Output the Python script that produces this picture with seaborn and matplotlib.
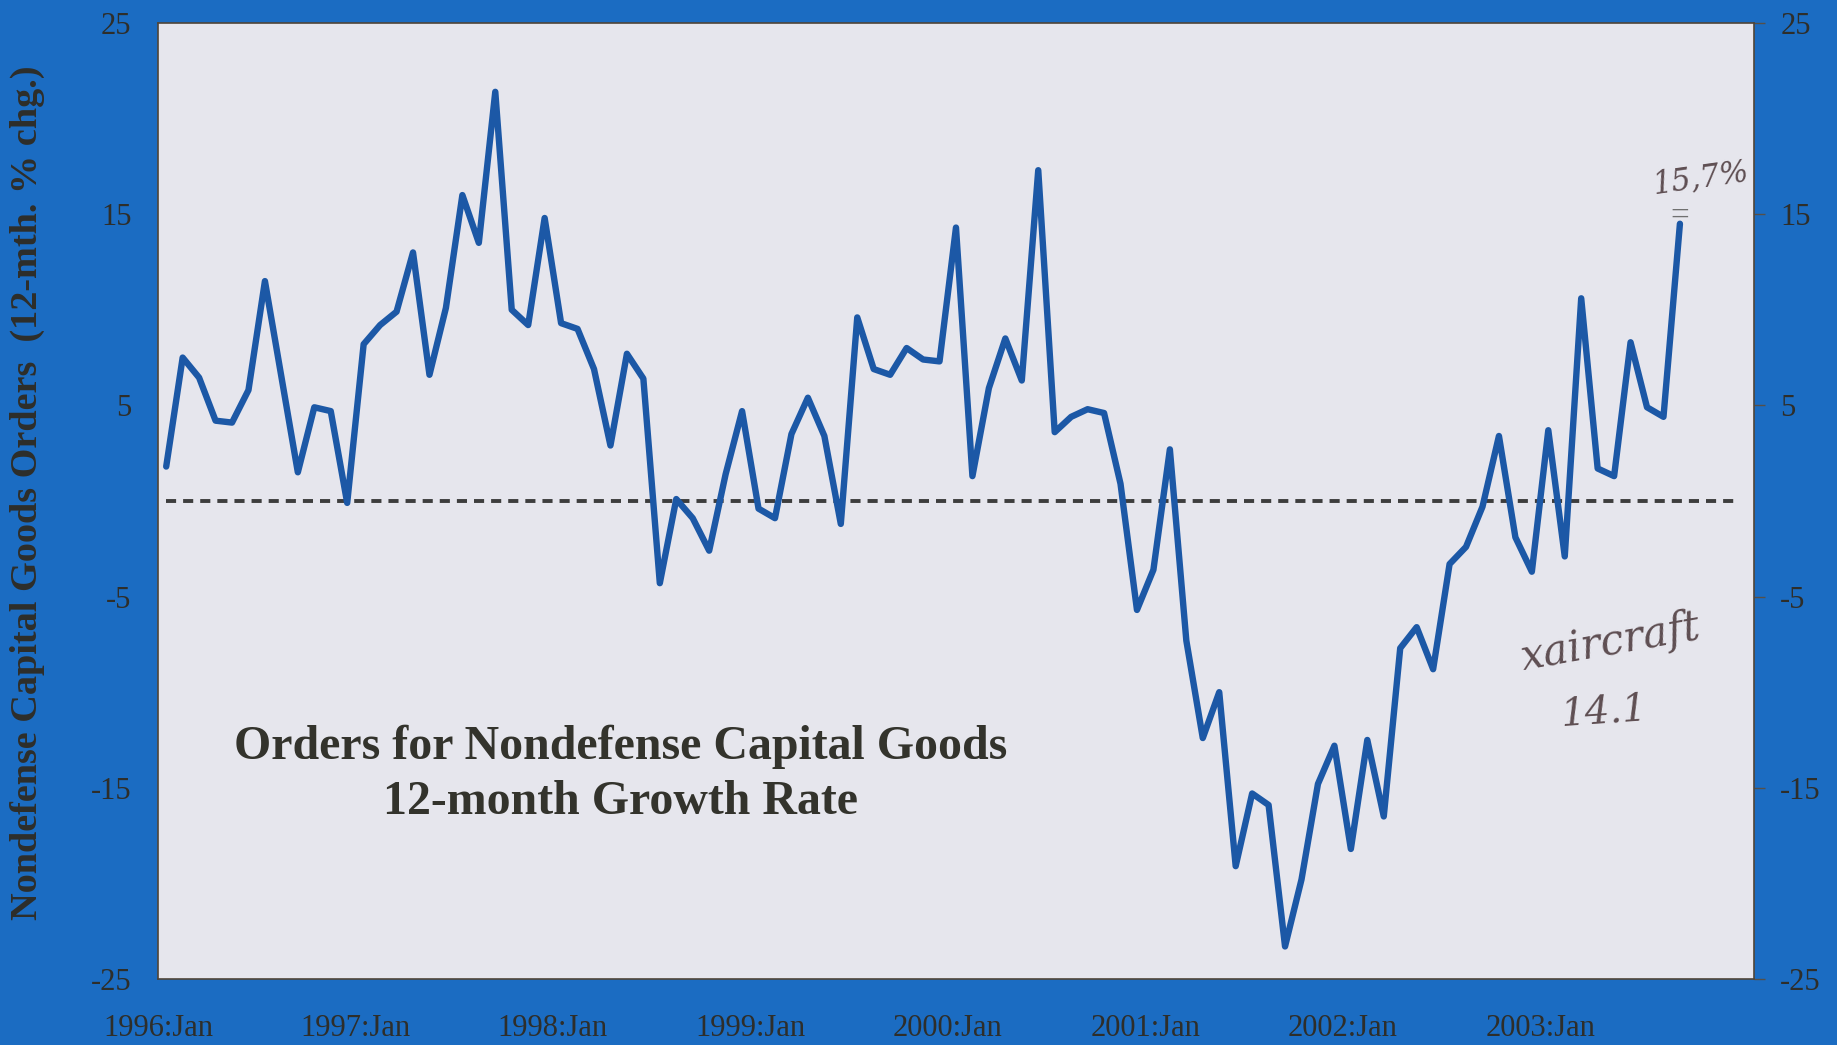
import numpy as np
import pandas as pd
import matplotlib
matplotlib.use("Agg")
import matplotlib.pyplot as plt
import seaborn as sns

# 12-month % change in nondefense capital goods orders, monthly from 1996:Jan
growth = [
    1.8, 7.5, 6.45, 4.2, 4.1, 5.8, 11.5, 6.5, 1.5, 4.9, 4.7, -0.1,
    8.2, 9.2, 9.9, 13.0, 6.6, 10.1, 16.0, 13.5, 21.4, 10.0, 9.2, 14.8,
    9.3, 9.0, 6.9, 2.9, 7.7, 6.4, -4.3, 0.1, -0.9, -2.6, 1.4, 4.7,
    -0.4, -0.9, 3.5, 5.4, 3.4, -1.2, 9.6, 6.9, 6.6, 8.0, 7.4, 7.3,
    14.3, 1.3, 5.9, 8.5, 6.3, 17.3, 3.6, 4.4, 4.8, 4.6, 0.9, -5.7,
    -3.6, 2.7, -7.3, -12.4, -10.0, -19.1, -15.3, -15.9, -23.3, -19.8, -14.8, -12.8,
    -18.2, -12.5, -16.5, -7.7, -6.6, -8.8, -3.3, -2.4, -0.3, 3.4, -1.9, -3.7,
    3.7, -2.9, 10.6, 1.7, 1.3, 8.3, 4.9, 4.4, 14.5,
]
year_labels = ["1996:Jan", "1997:Jan", "1998:Jan", "1999:Jan", "2000:Jan",
               "2001:Jan", "2002:Jan", "2003:Jan", ""]
y_ticks = [25, 15, 5, -5, -15, -25]
y_tick_labels = ["25", "15", "5", "-5", "-15", "-25"]

title_lines = "Orders for Nondefense Capital Goods\n12-month Growth Rate"
y_title = "Nondefense Capital Goods Orders  (12-mth. % chg.)"
note_latest = "15,7%"
note_aircraft = "xaircraft"
note_aircraft_val = "14.1"

sns.set_theme(style="white")
plt.rcParams["font.family"] = ["Liberation Serif", "DejaVu Serif"]

BG = "#1b6cc2"
PANEL = "#e6e6ed"
LINE = "#1c58a6"
INK = "#2e2e2a"
PEN = "#5e4e52"

fig = plt.figure(figsize=(18.37, 10.45), dpi=100, facecolor=BG)
ax = fig.add_axes([0.086, 0.0632, 0.8688, 0.9148])
ax.set_facecolor(PANEL)

# months are drawn at mid-month, year ticks at the start of each January
df = pd.DataFrame({"month": np.arange(len(growth)) + 0.5, "growth": growth})

ax.hlines(0, df["month"].iloc[0], 96, colors="#3d3d3d", linewidth=2.8,
          linestyles=(0, (2.6, 1.8)), zorder=2)
sns.lineplot(data=df, x="month", y="growth", ax=ax, color=LINE,
             linewidth=4.6, zorder=3)
for ln in ax.lines:
    ln.set_solid_joinstyle("round")

ax.set_xlim(0, 97)
ax.set_ylim(-25, 25)
ax.set_xticks(np.arange(0, 97, 12))
ax.set_xticklabels(year_labels)
ax.set_yticks(y_ticks)
ax.set_yticklabels(y_tick_labels)
ax.set_xlabel("")
ax.set_ylabel(y_title, fontsize=27.5, fontweight="bold", color=INK)
ax.yaxis.set_label_coords(-0.071, 0.509)

ax.tick_params(axis="both", direction="out", length=8, width=1,
               color="#555049", labelsize=22, labelcolor=INK)
ax.tick_params(axis="y", right=True, labelright=True, pad=11)
ax.tick_params(axis="x", pad=17)

for s in ax.spines.values():
    s.set_visible(True)
    s.set_color("#4f4538")
    s.set_linewidth(1.2)

ax.text(0.290, 0.214, title_lines, transform=ax.transAxes, ha="center",
        va="center", fontsize=34.5, fontweight="bold", color="#33332c",
        linespacing=1.32)

# handwritten notes
hand = dict(color=PEN, fontstyle="italic", family=["DejaVu Serif"],
            fontweight="light")
ax.text(0.967, 0.838, note_latest, transform=ax.transAxes, ha="center",
        va="center", fontsize=22, rotation=8, clip_on=False, **hand)
ax.annotate("=", xy=(df["month"].iloc[-1], df["growth"].iloc[-1]),
            xytext=(0, -6), textcoords="offset points", ha="center",
            va="bottom", fontsize=24, color="#707070")
ax.text(0.910, 0.352, note_aircraft, transform=ax.transAxes, ha="center",
        va="center", fontsize=30, rotation=10, **hand)
ax.text(0.906, 0.279, note_aircraft_val, transform=ax.transAxes, ha="center",
        va="center", fontsize=28, rotation=4, **hand)

fig.savefig("out.png", dpi=100, facecolor=BG)
